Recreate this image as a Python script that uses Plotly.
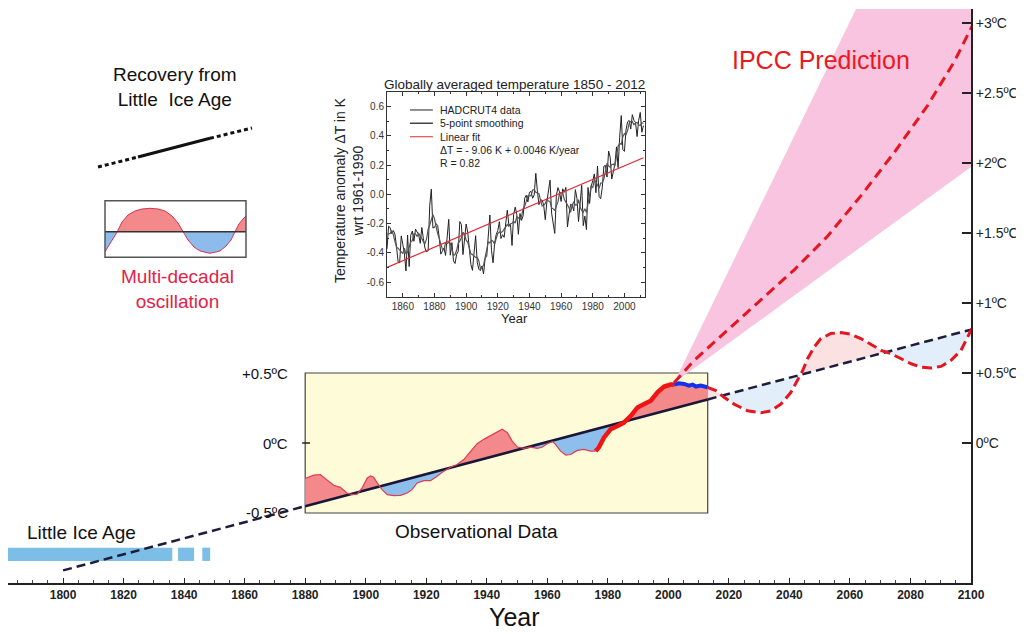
import numpy as np
import pandas as pd
import plotly.graph_objects as go

# ---- inset: HadCRUT4 annual anomalies (K, wrt 1961-1990)
had_years = list(range(1850, 2013))
had_vals = [-0.373, -0.218, -0.228, -0.269, -0.248, -0.272, -0.358, -0.461, -0.467, -0.284,
            -0.343, -0.407, -0.524, -0.278, -0.494, -0.279, -0.251, -0.321, -0.238, -0.262,
            -0.276, -0.335, -0.227, -0.304, -0.368, -0.395, -0.384, -0.075, 0.035, -0.230,
            -0.227, -0.200, -0.213, -0.296, -0.409, -0.389, -0.367, -0.418, -0.307, -0.171,
            -0.416, -0.330, -0.455, -0.473, -0.410, -0.390, -0.186, -0.206, -0.412, -0.289,
            -0.203, -0.259, -0.402, -0.479, -0.520, -0.377, -0.283, -0.465, -0.511, -0.522,
            -0.490, -0.544, -0.437, -0.424, -0.244, -0.141, -0.383, -0.468, -0.333, -0.275,
            -0.247, -0.187, -0.302, -0.276, -0.294, -0.215, -0.108, -0.210, -0.206, -0.350,
            -0.137, -0.087, -0.137, -0.273, -0.131, -0.178, -0.147, -0.026, -0.006, -0.052,
            0.014, 0.020, -0.027, -0.004, 0.144, 0.025, -0.071, -0.038, -0.039, -0.074,
            -0.173, -0.052, 0.028, 0.097, -0.129, -0.190, -0.267, -0.007, 0.046, 0.017,
            -0.049, 0.038, 0.014, 0.048, -0.223, -0.140, -0.068, -0.074, -0.113, 0.032,
            -0.027, -0.186, -0.065, 0.062, -0.214, -0.149, -0.241, 0.047, -0.062, 0.057,
            0.092, 0.140, 0.011, 0.194, -0.014, -0.030, 0.045, 0.192, 0.198, 0.118,
            0.296, 0.254, 0.105, 0.148, 0.208, 0.325, 0.183, 0.390, 0.539, 0.306,
            0.294, 0.441, 0.496, 0.505, 0.447, 0.545, 0.506, 0.491, 0.395, 0.506,
            0.560, 0.425, 0.470]
fit_years = [1850, 2012]
fit_vals = [-0.50, 0.25]

# ---- main chart
trend_years = [1800, 2100]
trend_vals = [-0.91, 0.81]

obs_years = [1880.0, 1882.8, 1885.0, 1887.2, 1889.4, 1891.6, 1893.8, 1895.5, 1897.2, 1898.8,
             1900.5, 1901.6, 1902.6, 1903.8, 1905.4, 1907.1, 1909.3, 1911.5, 1913.7, 1915.3,
             1917.0, 1919.2, 1921.4, 1923.6, 1925.8, 1928.0, 1930.2, 1932.4, 1934.6, 1936.8,
             1939.0, 1942.3, 1945.1, 1946.8, 1948.4, 1950.1, 1952.3, 1954.5, 1956.7, 1958.4,
             1960.0, 1961.7, 1962.7, 1964.4, 1966.1, 1967.7, 1969.9, 1972.1, 1974.3, 1976.0]
obs_vals = [-0.254, -0.230, -0.225, -0.261, -0.302, -0.317, -0.357, -0.369, -0.365, -0.321,
            -0.249, -0.235, -0.245, -0.285, -0.333, -0.369, -0.376, -0.374, -0.357, -0.333,
            -0.285, -0.269, -0.269, -0.237, -0.201, -0.173, -0.154, -0.118, -0.058, -0.005,
            0.026, 0.067, 0.098, 0.074, 0.014, -0.029, -0.038, -0.029, -0.038, -0.029,
            -0.005, 0.010, -0.010, -0.058, -0.086, -0.082, -0.053, -0.046, -0.058, -0.058]

warm_years = [1976.0, 1977.1, 1978.7, 1980.9, 1983.2, 1985.3, 1987.6, 1989.8, 1992.0, 1994.2,
              1996.4, 1998.6, 2000.8, 2001.9]
warm_vals = [-0.058, -0.029, 0.038, 0.098, 0.122, 0.146, 0.194, 0.254, 0.278, 0.302,
             0.362, 0.403, 0.417, 0.417]

pause_years = [2001.9, 2003.5, 2005.2, 2006.8, 2008.0, 2009.1, 2010.7, 2012.9]
pause_vals = [0.417, 0.427, 0.422, 0.410, 0.417, 0.403, 0.410, 0.398]

proj_years = [2012.9, 2015.7, 2018.4, 2021.7, 2026.2, 2030.6, 2033.9, 2037.2, 2040.5, 2042.7,
              2044.4, 2046.0, 2048.2, 2050.4, 2053.7, 2057.0, 2060.3, 2063.6, 2067.0, 2070.3,
              2073.6, 2076.9, 2080.2, 2083.5, 2086.8, 2090.1, 2093.4, 2096.7, 2098.9, 2100.3]
proj_vals = [0.398, 0.374, 0.326, 0.278, 0.230, 0.216, 0.230, 0.278, 0.362, 0.446,
             0.518, 0.602, 0.686, 0.746, 0.782, 0.789, 0.777, 0.746, 0.705, 0.662,
             0.638, 0.602, 0.566, 0.542, 0.535, 0.547, 0.590, 0.662, 0.758, 0.818]

ipcc_years = [2001.9, 2008.5, 2019.5, 2030.6, 2041.6, 2052.6, 2063.6, 2074.7, 2085.7, 2094.5, 2100.6]
ipcc_vals = [0.43, 0.590, 0.806, 1.022, 1.237, 1.477, 1.765, 2.077, 2.412, 2.725, 2.988]

fan_years = [2001.9, 2062.0, 2100.5, 2100.5]
fan_vals = [0.43, 3.10, 3.12, 1.98]

lia_start = [1781.6, 1838.0, 1846.0]
lia_end = [1836.1, 1843.3, 1848.6]

x_ticks = list(range(1800, 2101, 20))
y_ticks = [0, 0.5, 1, 1.5, 2, 2.5, 3]
y_labels = ['0ºC', '+0.5ºC', '+1ºC', '+1.5ºC', '+2ºC', '+2.5ºC', '+3ºC']

inset_yticks = [-0.6, -0.4, -0.2, 0.0, 0.2, 0.4, 0.6]
inset_ylabels = ['-0.6', '-0.4', '-0.2', '0.0', '0.2', '0.4', '0.6']

# ---- little icons (page pixel units of the overlay axis)
rec_dot1_x, rec_dot1_y = [98, 138], [167, 157]
rec_solid_x, rec_solid_y = [138, 210], [157, 138.3]
rec_dot2_x, rec_dot2_y = [210, 252], [138.3, 128]

wave_x = [105, 108, 112, 117.3, 122, 128, 135, 142, 150, 158, 165, 172, 178, 183.3, 188,
          194, 200, 210, 220, 226, 231, 235, 239, 243, 246]
wave_y = [251.7, 247, 241, 231.7, 222, 215, 211, 209, 208.3, 209, 211, 216, 223, 231.7, 240,
          247, 251, 253.3, 251, 246, 240, 231.7, 224, 219, 216]
wave_mid_x, wave_mid_y = [105, 246], [231.7, 231.7]

FONT = 'Liberation Sans, Arial, sans-serif'
# the page body adds an 8px offset, so the figure is 1016x626 drawn at (8, 8)
PX0, PX1, PY0, PY1 = 8, 971, 9, 583     # plot area in page pixels
W, H = 1016, 626
L, T = PX0 - 8, PY0 - 8
R, B = W - (PX1 - 8), H - (PY1 - 8)


def px(x, y):
    return (x - PX0) / (PX1 - PX0), (PY1 - y) / (PY1 - PY0)


def split_fill(xs, ys, bx, by):
    xs = np.asarray(xs, float)
    ys = np.asarray(ys, float)
    base = np.interp(xs, bx, by)
    d = ys - base
    gx = [xs[0]]
    for i in range(len(xs) - 1):
        if d[i] * d[i + 1] < 0:
            t = d[i] / (d[i] - d[i + 1])
            gx.append(xs[i] + t * (xs[i + 1] - xs[i]))
        gx.append(xs[i + 1])
    gx = np.array(gx)
    gy = np.interp(gx, xs, ys)
    gb = np.interp(gx, bx, by)
    return gx, gb, np.maximum(gy, gb), np.minimum(gy, gb)


def add_fill(fig, xs, ys, bx, by, up_col, dn_col, xa='x', ya='y'):
    gx, gb, up, dn = split_fill(xs, ys, bx, by)
    for part, col in ((up, up_col), (dn, dn_col)):
        fig.add_trace(go.Scatter(x=gx, y=gb, mode='lines', line=dict(width=0),
                                 hoverinfo='skip', xaxis=xa, yaxis=ya))
        fig.add_trace(go.Scatter(x=gx, y=part, mode='lines', line=dict(width=0),
                                 fill='tonexty', fillcolor=col, hoverinfo='skip',
                                 xaxis=xa, yaxis=ya))


fig = go.Figure()

# IPCC fan
fig.add_trace(go.Scatter(x=fan_years, y=fan_vals, mode='lines', fill='toself',
                         fillcolor='rgb(249,196,223)', line=dict(width=0), hoverinfo='skip'))

# little ice age bars
fig.add_trace(go.Bar(y=[-0.795] * 3, x=np.array(lia_end) - np.array(lia_start), base=lia_start,
                     orientation='h', width=0.095, marker=dict(color='rgb(125,190,230)', line=dict(width=0))))

# projection fills and observational fills
add_fill(fig, proj_years, proj_vals, trend_years, trend_vals,
         'rgb(251,225,225)', 'rgb(226,238,250)')
obs_all_x = obs_years + warm_years[1:] + pause_years[1:]
obs_all_y = obs_vals + warm_vals[1:] + pause_vals[1:]
add_fill(fig, obs_all_x, obs_all_y, trend_years, trend_vals,
         'rgb(243,137,139)', 'rgb(141,190,236)')

# trend: dashed outside box, solid inside
box_x0, box_x1 = 1880, 2013
tb0, tb1 = np.interp([box_x0, box_x1], trend_years, trend_vals)
fig.add_trace(go.Scatter(x=[trend_years[0], box_x0], y=[trend_vals[0], tb0], mode='lines',
                         line=dict(color='rgb(30,28,60)', width=2.5, dash='9px,5px')))
fig.add_trace(go.Scatter(x=[box_x1, trend_years[1]], y=[tb1, trend_vals[1]], mode='lines',
                         line=dict(color='rgb(30,28,60)', width=2.5, dash='9px,5px')))
fig.add_trace(go.Scatter(x=[box_x0, box_x1], y=[tb0, tb1], mode='lines',
                         line=dict(color='rgb(25,22,55)', width=2.5)))

# observational curve
fig.add_trace(go.Scatter(x=obs_years, y=obs_vals, mode='lines', line=dict(color='rgb(222,60,85)', width=1.2)))
fig.add_trace(go.Scatter(x=warm_years, y=warm_vals, mode='lines', line=dict(color='rgb(240,20,20)', width=4.5)))
fig.add_trace(go.Scatter(x=pause_years, y=pause_vals, mode='lines', line=dict(color='rgb(20,50,235)', width=4)))

# projections
fig.add_trace(go.Scatter(x=proj_years, y=proj_vals, mode='lines',
                         line=dict(color='rgb(228,22,32)', width=3, dash='10px,5px')))
fig.add_trace(go.Scatter(x=ipcc_years, y=ipcc_vals, mode='lines',
                         line=dict(color='rgb(228,22,32)', width=3, dash='10px,6px')))

# ---- inset chart
smooth = pd.Series(had_vals).rolling(5, center=True, min_periods=1).mean()
fig.add_trace(go.Scatter(x=had_years, y=had_vals, mode='lines', line=dict(color='#222', width=1),
                         xaxis='x2', yaxis='y2'))
fig.add_trace(go.Scatter(x=had_years, y=smooth, mode='lines', line=dict(color='#555', width=1.2),
                         xaxis='x2', yaxis='y2'))
fig.add_trace(go.Scatter(x=fit_years, y=fit_vals, mode='lines', line=dict(color='rgb(225,40,50)', width=1.2),
                         xaxis='x2', yaxis='y2'))

# ---- icons
for xs, ys, dash in ((rec_dot1_x, rec_dot1_y, '4px,3px'), (rec_solid_x, rec_solid_y, 'solid'),
                     (rec_dot2_x, rec_dot2_y, '4px,3px')):
    fig.add_trace(go.Scatter(x=xs, y=ys, mode='lines', line=dict(color='#111', width=3, dash=dash),
                             xaxis='x3', yaxis='y3'))
gx, gb, up, dn = split_fill(wave_x, wave_y, wave_mid_x, wave_mid_y)
for part, col in ((dn, 'rgb(243,137,139)'), (up, 'rgb(141,188,236)')):
    fig.add_trace(go.Scatter(x=gx, y=gb, mode='lines', line=dict(width=0), xaxis='x3', yaxis='y3'))
    fig.add_trace(go.Scatter(x=gx, y=part, mode='lines', line=dict(width=0), fill='tonexty',
                             fillcolor=col, xaxis='x3', yaxis='y3'))
fig.add_trace(go.Scatter(x=wave_x, y=wave_y, mode='lines', line=dict(color='rgb(215,50,80)', width=1),
                         xaxis='x3', yaxis='y3'))
fig.add_trace(go.Scatter(x=wave_mid_x, y=wave_mid_y, mode='lines', line=dict(color='#333', width=1.5),
                         xaxis='x3', yaxis='y3'))

shapes = [
    dict(type='rect', xref='x', yref='y', x0=box_x0, x1=box_x1, y0=-0.5, y1=0.5,
         fillcolor='rgb(254,252,216)', line=dict(color='#444', width=1.2), layer='below'),
    dict(type='line', xref='x', yref='y', x0=1879, x1=1881.6, y0=0, y1=0,
         line=dict(color='#222', width=1.5)),
    dict(type='rect', xref='x3', yref='y3', x0=105, x1=246, y0=200.7, y1=257.3,
         line=dict(color='#555', width=1.5)),
]
# inset legend keys
for yv, col, w in ((0.577, '#222', 1), (0.486, '#444', 1.5), (0.394, 'rgb(225,40,50)', 1.2)):
    shapes.append(dict(type='line', xref='x2', yref='y2', x0=1864.5, x1=1879, y0=yv, y1=yv,
                       line=dict(color=col, width=w)))

annotations = []


def note(text, x, y, size, color='#111', xanchor='center', family=FONT, angle=0):
    xp, yp = px(x, y)
    annotations.append(dict(text=text, x=xp, y=yp, xref='paper', yref='paper', showarrow=False,
                            xanchor=xanchor, yanchor='middle', textangle=angle,
                            font=dict(size=size, color=color, family=family)))


note('Recovery from<br>Little\u00a0 Ice Age', 175, 87, 19)
note('Multi-decadal<br>oscillation', 177, 289, 19, color='rgb(225,35,70)')
note('IPCC Prediction', 821, 60, 25, color='rgb(235,25,30)')
note('Observational Data', 476, 531, 19)
note('Little Ice Age', 25, 532, 19, xanchor='left')
note('+0.5ºC', 290, 373, 15, xanchor='right')
note('0ºC', 290, 443, 15, xanchor='right')
note('-0.5ºC', 290, 512, 15, xanchor='right')
note('Year', 515, 617, 25)
note('Globally averaged temperature 1850 - 2012', 514, 84, 13.5, color='#222')
note('Temperature anomaly ΔT in K<br>wrt 1961-1990', 349, 190, 14, color='#222', angle=-90)
note('Year', 514, 318, 13, color='#222')
for text, yy in (('HADCRUT4 data', 110), ('5-point smoothing', 123.3), ('Linear fit', 136.7),
                 ('ΔT = - 9.06 K + 0.0046 K/year', 150), ('R = 0.82', 163.3)):
    note(text, 438, yy, 10.5, color='#222', xanchor='left')

x2d = [px(387, 0)[0], px(645, 0)[0]]
y2d = [px(0, 296.7)[1], px(0, 92)[1]]

fig.update_layout(
    width=W, height=H,
    margin=dict(l=L, r=R, t=T, b=B),
    paper_bgcolor='white', plot_bgcolor='rgba(0,0,0,0)',
    showlegend=False, barmode='overlay',
    font=dict(family=FONT, color='#111'),
    shapes=shapes, annotations=annotations,
    xaxis=dict(range=[1781.8, 2100], showgrid=False, zeroline=False, showline=True,
               linecolor='#222', linewidth=2, ticks='inside', ticklen=5, tickwidth=1.2,
               tickcolor='#222', tickvals=x_ticks, ticktext=['<b>%d</b>' % v for v in x_ticks],
               tickfont=dict(size=12, color='#222', family=FONT),
               minor=dict(dtick=5, tick0=1800, ticks='inside', ticklen=3, tickcolor='#444')),
    yaxis=dict(range=[-1.0, 3.1], side='right', showgrid=False, zeroline=False, showline=True,
               linecolor='#222', linewidth=2, ticks='inside', ticklen=9, tickwidth=2,
               tickcolor='#222', tickvals=y_ticks, ticktext=y_labels,
               tickfont=dict(size=14, color='#222', family=FONT)),
    xaxis2=dict(domain=x2d, anchor='y2', range=[1850, 2013], showgrid=False, zeroline=False,
                showline=True, mirror='ticks', linecolor='#333', linewidth=1, ticks='inside',
                ticklen=4, tickcolor='#333', tickvals=list(range(1860, 2001, 20)),
                tickfont=dict(size=10, color='#333'),
                minor=dict(dtick=10, tick0=1850, ticks='inside', ticklen=2, tickcolor='#333')),
    yaxis2=dict(domain=y2d, anchor='x2', range=[-0.7, 0.7], showgrid=False, zeroline=False,
                showline=True, mirror='ticks', linecolor='#333', linewidth=1, ticks='inside',
                ticklen=4, tickcolor='#333', tickvals=inset_yticks, ticktext=inset_ylabels,
                tickfont=dict(size=10, color='#333'),
                minor=dict(dtick=0.1, ticks='inside', ticklen=2, tickcolor='#333')),
    xaxis3=dict(domain=[0, 1], anchor='y3', range=[PX0, PX1], visible=False),
    yaxis3=dict(domain=[0, 1], anchor='x3', range=[PY1, PY0], visible=False),
)

fig.write_html('out.html')
